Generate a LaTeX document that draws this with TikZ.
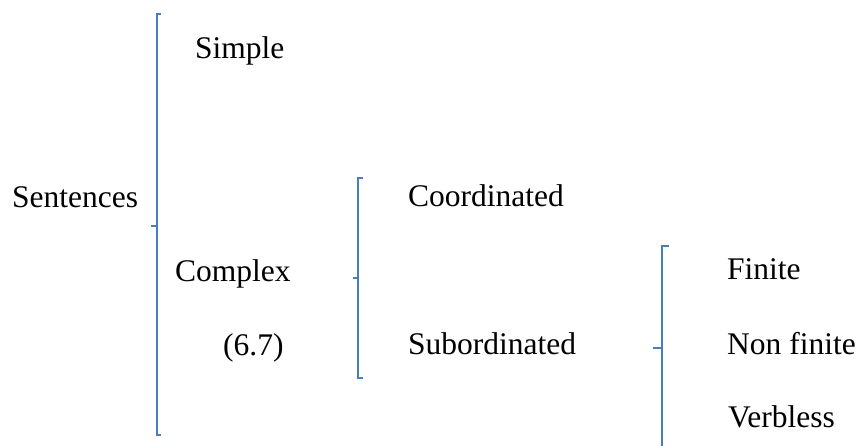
\documentclass[tikz,border=0pt]{standalone}
\usepackage{fontspec}
\setmainfont{Liberation Serif}
\definecolor{bracecol}{HTML}{4A7EBB}
\tikzset{
  lbl/.style={anchor=base west, inner sep=0pt, font=\fontsize{31.5}{36}\selectfont},
  bracket/.style={draw=bracecol, line width=2pt, line join=miter}
}
\begin{document}
\begin{tikzpicture}[x=1pt,y=1pt]
\useasboundingbox (0,0) rectangle (861,-445);
% texts
\node[lbl] (sent) at (12,-207) {Sentences};
\node[lbl] (simple) at (195,-58) {Simple};
\node[lbl] (complex) at (175,-281) {Complex};
\node[lbl] (num) at (223,-355) {(6.7)};
\node[lbl] (coord) at (408,-206) {Coordinated};
\node[lbl] (subord) at (408,-354) {Subordinated};
\node[lbl] (finite) at (727,-279) {Finite};
\node[lbl] (nonfinite) at (727,-354) {Non finite};
\node[lbl] (verbless) at (728,-427) {Verbless};
% brackets
\draw[bracket] (161,-14) -- (156.5,-14) -- (156.5,-435) -- (161,-435);
\draw[bracket] (151,-226) -- (156.5,-226);
\draw[bracket] (363,-178) -- (358,-178) -- (358,-378) -- (363,-378);
\draw[bracket] (353,-278) -- (358,-278);
\draw[bracket] (669,-246) -- (662,-246) -- (662,-446);
\draw[bracket] (653,-348) -- (662,-348);
\end{tikzpicture}
\end{document}
